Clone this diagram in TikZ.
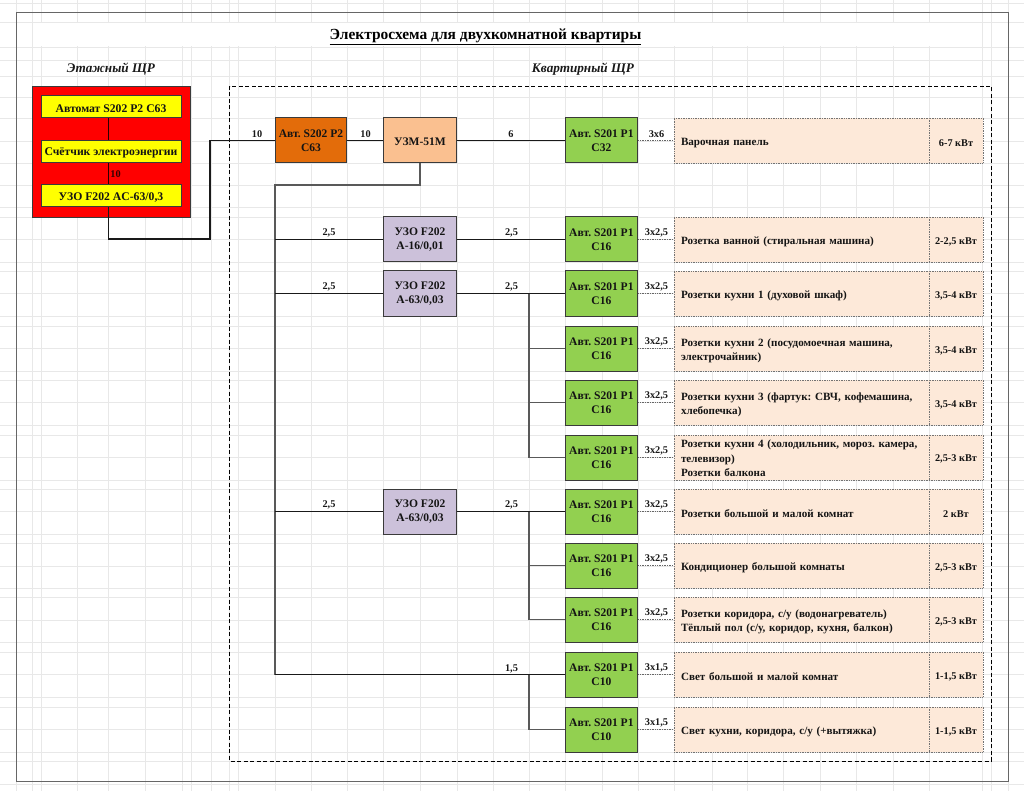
\documentclass[tikz,border=0pt]{standalone}
\usepackage{fontspec}
\setmainfont{Liberation Serif}
\usetikzlibrary{calc}
\definecolor{gridc}{HTML}{E8E8E8}
\definecolor{redc}{HTML}{FF0000}
\definecolor{yelc}{HTML}{FFFF00}
\definecolor{orangec}{HTML}{E36C0A}
\definecolor{lorangec}{HTML}{FAC090}
\definecolor{purplec}{HTML}{CCC1DA}
\definecolor{greenc}{HTML}{92D050}
\definecolor{loadc}{HTML}{FDE9D9}
\definecolor{edgec}{HTML}{3A3A3A}
\newcommand{\descstruth}{12pt}
\tikzset{
  x=1pt,y=-1pt,
  gridline/.style={gridc,line width=0.8pt},
  boxed/.style={draw=edgec,line width=1pt,rectangle,inner sep=0pt,align=center,text=black!92,font=\frenchspacing\fontsize{11.55}{14.4}\selectfont\bfseries,execute at begin node={\rule{0pt}{11pt}}},
  yelbox/.style={boxed,fill=yelc,minimum width=140pt,minimum height=22pt,font=\frenchspacing\fontsize{11.7}{14.4}\selectfont\bfseries},
  redbox/.style={draw=edgec,line width=0.8pt,fill=redc,rectangle,inner sep=0pt,minimum width=158.5pt,minimum height=131pt},
  avtbox/.style={boxed,fill=greenc,minimum width=72.5pt,minimum height=45pt},
  mainbox/.style={boxed,fill=orangec,minimum width=71.5pt,minimum height=45pt},
  uzmbox/.style={boxed,fill=lorangec,minimum width=73.5pt,minimum height=45pt},
  uzobox/.style={boxed,fill=purplec,minimum width=73.5pt,minimum height=45pt},
  loadbox/.style={draw=black!55,densely dotted,line width=0.7pt,fill=loadc,rectangle,inner sep=0pt,minimum height=45pt,text=black!92,font=\frenchspacing\fontsize{11.1}{14.4}\selectfont\bfseries,execute at begin node={\rule{0pt}{\descstruth}}},
  descbox/.style={loadbox,minimum width=255pt,text width=241pt,inner xsep=7pt,align=left},
  powbox/.style={loadbox,minimum width=54pt,align=center,font=\frenchspacing\fontsize{10.3}{14.4}\selectfont\bfseries},
  wire/.style={draw=black!90,line width=1.1pt},
  gwire/.style={draw=black!65,line width=1.3pt},
  stemwire/.style={draw=black!85!red,line width=0.8pt},
  dotwire/.style={draw=black!60,densely dotted,line width=0.7pt},
  cab/.style={font=\frenchspacing\fontsize{10.3}{11}\selectfont\bfseries,text=black!90,inner sep=0pt},
  head/.style={font=\frenchspacing\fontsize{13.2}{15}\selectfont\bfseries\itshape,text=black!90,inner sep=0pt},
}
\newcommand{\loadrow}[6]{%
  % name, center y, breaker line 2, cable, description, power
  \node[avtbox] (av#1) at (601.4,#2) {Авт. S201 P1\\#3};
  \node[descbox] (ds#1) at (801.5,#2) {#5};
  \node[powbox] (pw#1) at (956,#2) {#6};
  \draw[dotwire] (av#1.east) -- (ds#1.west);
  \node[cab] (cb#1) at (656.5,#2-6.5) {#4};
}
\begin{document}
\begin{tikzpicture}
\useasboundingbox (0,0) rectangle (1024,791);
\fill[white] (0,0) rectangle (1024,791);
% background grid
\foreach \gx in {16,32,41,77,108,145,182,191,211,229,238,275,311,347,383,420,457,493,529,565,602,638,674,712,747,783,820,856,893,929,982,991,1008}
  \draw[gridline] (\gx,0) -- (\gx,791);
\foreach \gy in {3,22,47,60,76,97,118,141,163,185,207,217,239,262,271,293,316,326,348,371,380,402,425,435,457,480,489,511,534,543,566,588,597,620,642,652,674,697,707,729,752,761,784}
  \draw[gridline] (0,\gy) -- (1024,\gy);
\fill[white] (33,23) rectangle (975,46);
% outer frame
\draw[draw=black!60,line width=1pt] (16.5,12.5) rectangle (1008,781);
% dashed panel
\draw[draw=black,line width=0.9pt,dash pattern=on 4pt off 2.5pt] (229.5,86) rectangle (991,761);
% titles
\node[inner sep=0pt,font=\frenchspacing\fontsize{15.45}{17}\selectfont\bfseries,text=black] (title) at (485.5,36.6) {\underline{Электросхема для двухкомнатной квартиры}};
\node[head] (floorhead) at (111,69.5) {Этажный ЩР};
\node[head] (flathead) at (583,69.5) {Квартирный ЩР};
% floor panel
\node[redbox] (floor) at (111.25,151.5) {};
\node[yelbox] (fa) at (111,107) {Автомат S202 P2 C63};
\node[yelbox] (fb) at (111,151.5) {Счётчик электроэнергии};
\node[yelbox] (fc) at (111,196) {УЗО F202 AC-63/0,3};
\coordinate (stem) at (108.5,151);
\draw[stemwire] (fa.south -| stem) -- (fb.north -| stem);
\draw[stemwire] (fb.south -| stem) -- (fc.north -| stem);
\node[cab,text=black!80!red] (lb0) at (115.5,174.5) {10};
% flat panel top row
\node[mainbox] (main) at (311,140.5) {Авт. S202 P2\\C63};
\node[uzmbox] (uzm) at (420,140.5) {УЗМ-51М};
\node[uzobox] (uzoa) at (420,239.5) {УЗО F202\\А-16/0,01};
\node[uzobox] (uzob) at (420,293.5) {УЗО F202\\А-63/0,03};
\node[uzobox] (uzoc) at (420,511.5) {УЗО F202\\А-63/0,03};
% load rows
\loadrow{a}{140.5}{C32}{3x6}{Варочная панель}{6-7 кВт}
\loadrow{b}{239.5}{C16}{3x2,5}{Розетка ванной (стиральная машина)}{2-2,5 кВт}
\loadrow{c}{293.5}{C16}{3x2,5}{Розетки кухни 1 (духовой шкаф)}{3,5-4 кВт}
\loadrow{d}{348.5}{C16}{3x2,5}{Розетки кухни 2 (посудомоечная машина,\\электрочайник)}{3,5-4 кВт}
\loadrow{e}{402.5}{C16}{3x2,5}{Розетки кухни 3 (фартук: СВЧ, кофемашина,\\хлебопечка)}{3,5-4 кВт}
\renewcommand{\descstruth}{9.5pt}
\loadrow{f}{457.5}{C16}{3x2,5}{Розетки кухни 4 (холодильник, мороз. камера,\\телевизор)\\Розетки балкона}{2,5-3 кВт}
\renewcommand{\descstruth}{12pt}
\loadrow{g}{511.5}{C16}{3x2,5}{Розетки большой и малой комнат}{2 кВт}
\loadrow{h}{565.5}{C16}{3x2,5}{Кондиционер большой комнаты}{2,5-3 кВт}
\loadrow{i}{619.5}{C16}{3x2,5}{Розетки коридора, с/у (водонагреватель)\\Тёплый пол (с/у, коридор, кухня, балкон)}{2,5-3 кВт}
\loadrow{j}{674.5}{C10}{3x1,5}{Свет большой и малой комнат}{1-1,5 кВт}
\loadrow{k}{729.5}{C10}{3x1,5}{Свет кухни, коридора, с/у (+вытяжка)}{1-1,5 кВт}
% helper points
\coordinate (feedturn) at (210,239);
\coordinate (bustop) at (275,185);
\coordinate (busbot) at (275,674.5);
\coordinate (splitb) at (529,293.5);
\coordinate (splitc) at (529,511.5);
\coordinate (splitl) at (529,674.5);
% connectors
\draw[wire] (fc.south -| stem) |- (feedturn) |- (main.west);
\draw[wire] (main) -- (uzm);
\draw[wire] (uzm) -- (ava);
\draw[gwire] (uzm.south) |- (bustop) -- (busbot);
\draw[wire] (uzoa.west -| bustop) -- (uzoa.west);
\draw[wire] (uzob.west -| bustop) -- (uzob.west);
\draw[wire] (uzoc.west -| bustop) -- (uzoc.west);
\draw[wire] (busbot) -- (avj.west);
\draw[wire] (uzoa) -- (avb);
\draw[wire] (uzob) -- (avc);
\draw[wire] (uzoc) -- (avg);
\draw[gwire] (splitb) |- (avd.west);
\draw[gwire] (splitb) |- (ave.west);
\draw[gwire] (splitb) |- (avf.west);
\draw[gwire] (splitc) |- (avh.west);
\draw[gwire] (splitc) |- (avi.west);
\draw[gwire] (splitl) |- (avk.west);
% wire labels
\node[cab] (l1) at (257,134.5) {10};
\node[cab] (l2) at (365.5,134) {10};
\node[cab] (l3) at (511,134) {6};
\node[cab] (l4) at (329,232.5) {2,5};
\node[cab] (l5) at (511.5,233) {2,5};
\node[cab] (l6) at (329,287) {2,5};
\node[cab] (l7) at (511.5,287) {2,5};
\node[cab] (l8) at (329,505) {2,5};
\node[cab] (l9) at (511.5,505) {2,5};
\node[cab] (l10) at (511.5,669) {1,5};
\end{tikzpicture}
\end{document}
